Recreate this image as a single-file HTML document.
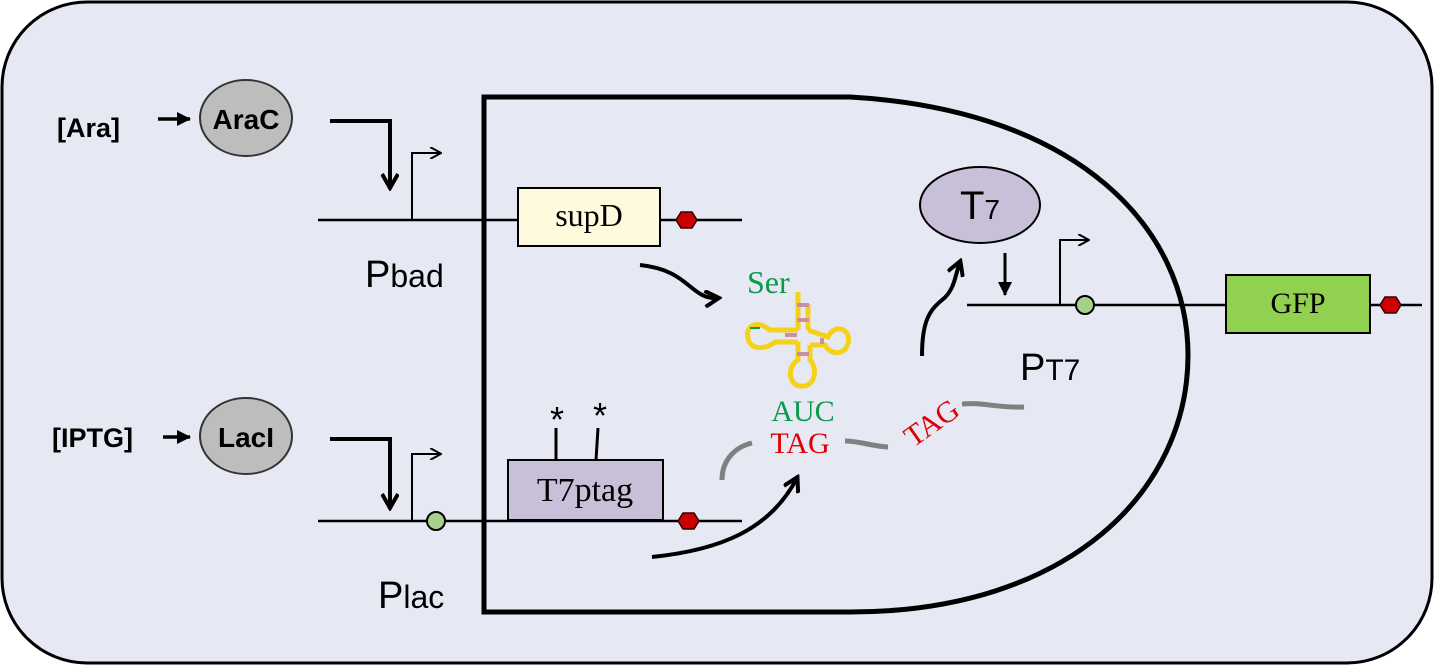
<!DOCTYPE html>
<html><head><style>
html,body{margin:0;padding:0;background:#fff;}
svg{display:block;}
text{font-family:"Liberation Sans",sans-serif;}
.serif{font-family:"Liberation Serif",serif;}
</style></head><body>
<svg width="1435" height="666" viewBox="0 0 1435 666" xmlns="http://www.w3.org/2000/svg">
<defs>
<marker id="ah" markerWidth="12" markerHeight="12" refX="10" refY="6" orient="auto" markerUnits="userSpaceOnUse">
<path d="M0,0 L11,6 L0,12" fill="none" stroke="#000" stroke-width="2"/></marker>
<marker id="ahb" markerWidth="18" markerHeight="18" refX="14" refY="9" orient="auto" markerUnits="userSpaceOnUse">
<path d="M1,1 L15,9 L1,17" fill="none" stroke="#000" stroke-width="4"/></marker>
<marker id="ahf" markerWidth="16" markerHeight="16" refX="13" refY="8" orient="auto" markerUnits="userSpaceOnUse">
<path d="M0,1 L14,8 L0,15 Z" fill="#000"/></marker>
</defs>
<rect x="2" y="2" width="1430" height="661" rx="85" fill="#e6e8f4" stroke="#000" stroke-width="3"/>
<path d="M484,612 L484,97 L850,97 C1080,110 1188,230 1188,355 C1188,490 1070,612 850,612 Z" fill="none" stroke="#000" stroke-width="5"/>
<!-- Ara -->
<text x="57" y="137" font-size="27" font-weight="bold">[Ara]</text>
<line x1="158" y1="119" x2="190" y2="119" stroke="#000" stroke-width="3.5" marker-end="url(#ahf)"/>
<ellipse cx="246" cy="118" rx="46" ry="38" fill="#bdbdbd" stroke="#333" stroke-width="2"/>
<text x="246" y="129" font-size="28" font-weight="bold" text-anchor="middle">AraC</text>
<path d="M330,121 L390,121 L390,187" fill="none" stroke="#000" stroke-width="4" marker-end="url(#ahb)"/>
<line x1="318" y1="220" x2="742" y2="220" stroke="#000" stroke-width="2.5"/>
<path d="M412,220 L412,153 L440,153" fill="none" stroke="#000" stroke-width="2" marker-end="url(#ah)"/>
<text x="365" y="287" font-size="38">P<tspan font-size="32">bad</tspan></text>
<rect x="518" y="188" width="142" height="58" fill="#fff9dd" stroke="#000" stroke-width="2"/>
<text class="serif" x="589" y="226" font-size="32" text-anchor="middle">supD</text>
<polygon points="676,220 681,212 692,212 697,220 692,228 681,228" fill="#c00" stroke="#300" stroke-width="1.5"/>
<path d="M640,265 C690,270 690,300 718,298" fill="none" stroke="#000" stroke-width="4" marker-end="url(#ahb)"/>
<!-- IPTG -->
<text x="52" y="447" font-size="27" font-weight="bold">[IPTG]</text>
<line x1="163" y1="437" x2="190" y2="437" stroke="#000" stroke-width="3.5" marker-end="url(#ahf)"/>
<ellipse cx="246" cy="436" rx="46" ry="38" fill="#bdbdbd" stroke="#333" stroke-width="2"/>
<text x="246" y="447" font-size="28" font-weight="bold" text-anchor="middle">LacI</text>
<path d="M330,439 L390,439 L390,507" fill="none" stroke="#000" stroke-width="4" marker-end="url(#ahb)"/>
<line x1="318" y1="521" x2="742" y2="521" stroke="#000" stroke-width="2.5"/>
<path d="M412,521 L412,454 L440,454" fill="none" stroke="#000" stroke-width="2" marker-end="url(#ah)"/>
<circle cx="436" cy="521" r="9" fill="#a8d08d" stroke="#000" stroke-width="2"/>
<text x="378" y="608" font-size="38">P<tspan font-size="32">lac</tspan></text>
<rect x="508" y="460" width="155" height="60" fill="#c8bfd9" stroke="#000" stroke-width="2"/>
<text class="serif" x="585" y="501" font-size="34" text-anchor="middle">T7ptag</text>
<line x1="556" y1="460" x2="556" y2="428" stroke="#000" stroke-width="3"/>
<line x1="596" y1="460" x2="598" y2="428" stroke="#000" stroke-width="3"/>
<text x="557" y="432" font-size="36" text-anchor="middle">*</text>
<text x="600" y="428" font-size="36" text-anchor="middle">*</text>
<polygon points="678,521 683,513 694,513 699,521 694,529 683,529" fill="#c00" stroke="#300" stroke-width="1.5"/>
<path d="M652,557 C720,550 770,530 797,478" fill="none" stroke="#000" stroke-width="4" marker-end="url(#ahb)"/>
<!-- tRNA -->
<text class="serif" x="747" y="293" font-size="32" fill="#0a9a4a">Ser</text>
<g fill="none" stroke="#f5d21a" stroke-width="5">
<path d="M798,292 L798,330 M808,304 L808,330"/>
<path d="M798,330 L770,330 C755,318 745,328 748,338 C750,350 765,350 775,342 L798,342"/>
<path d="M808,330 L828,337 C835,322 852,330 848,343 C845,356 830,355 825,345 L810,345"/>
<path d="M798,342 L798,360 C785,368 790,388 803,386 C815,386 818,368 810,360 L810,345"/>
</g>
<g fill="#c890a8"><rect x="797" y="303" width="12" height="4"/><rect x="797" y="318" width="12" height="4"/><rect x="785" y="333" width="12" height="4"/><rect x="820" y="338" width="4" height="6"/><rect x="797" y="352" width="12" height="4"/></g>
<line x1="750" y1="328" x2="760" y2="328" stroke="#0a9a4a" stroke-width="2"/>
<text class="serif" x="803" y="421" font-size="30" fill="#0a9a4a" text-anchor="middle">AUC</text>
<text class="serif" x="800" y="453" font-size="30" fill="#e00000" text-anchor="middle">TAG</text>
<path d="M722,480 C722,460 735,447 752,443" fill="none" stroke="#808080" stroke-width="5"/>
<path d="M845,441 C860,441 870,446 888,447" fill="none" stroke="#808080" stroke-width="5"/>
<text class="serif" x="0" y="0" font-size="30" fill="#e00000" transform="translate(913,448) rotate(-35)">TAG</text>
<path d="M962,404 C985,402 995,408 1024,407" fill="none" stroke="#808080" stroke-width="5"/>
<!-- T7 -->
<ellipse cx="980" cy="205" rx="60" ry="38" fill="#c8bfd9" stroke="#000" stroke-width="2"/>
<text x="980" y="219" font-size="40" text-anchor="middle">T<tspan font-size="28">7</tspan></text>
<path d="M922,356 C922,320 930,310 942,300 C955,290 955,275 960,262" fill="none" stroke="#000" stroke-width="4" marker-end="url(#ahb)"/>
<line x1="1005" y1="253" x2="1005" y2="295" stroke="#000" stroke-width="3" marker-end="url(#ahf)"/>
<line x1="967" y1="305" x2="1422" y2="305" stroke="#000" stroke-width="2.5"/>
<path d="M1060,305 L1060,240 L1088,240" fill="none" stroke="#000" stroke-width="2" marker-end="url(#ah)"/>
<circle cx="1085" cy="305" r="9" fill="#a8d08d" stroke="#000" stroke-width="2"/>
<text x="1020" y="380" font-size="38">P<tspan font-size="30">T7</tspan></text>
<rect x="1226" y="275" width="144" height="58" fill="#92d050" stroke="#000" stroke-width="2"/>
<text class="serif" x="1298" y="313" font-size="30" text-anchor="middle">GFP</text>
<polygon points="1380,305 1385,297 1396,297 1401,305 1396,313 1385,313" fill="#c00" stroke="#300" stroke-width="1.5"/>
</svg>
</body></html>
